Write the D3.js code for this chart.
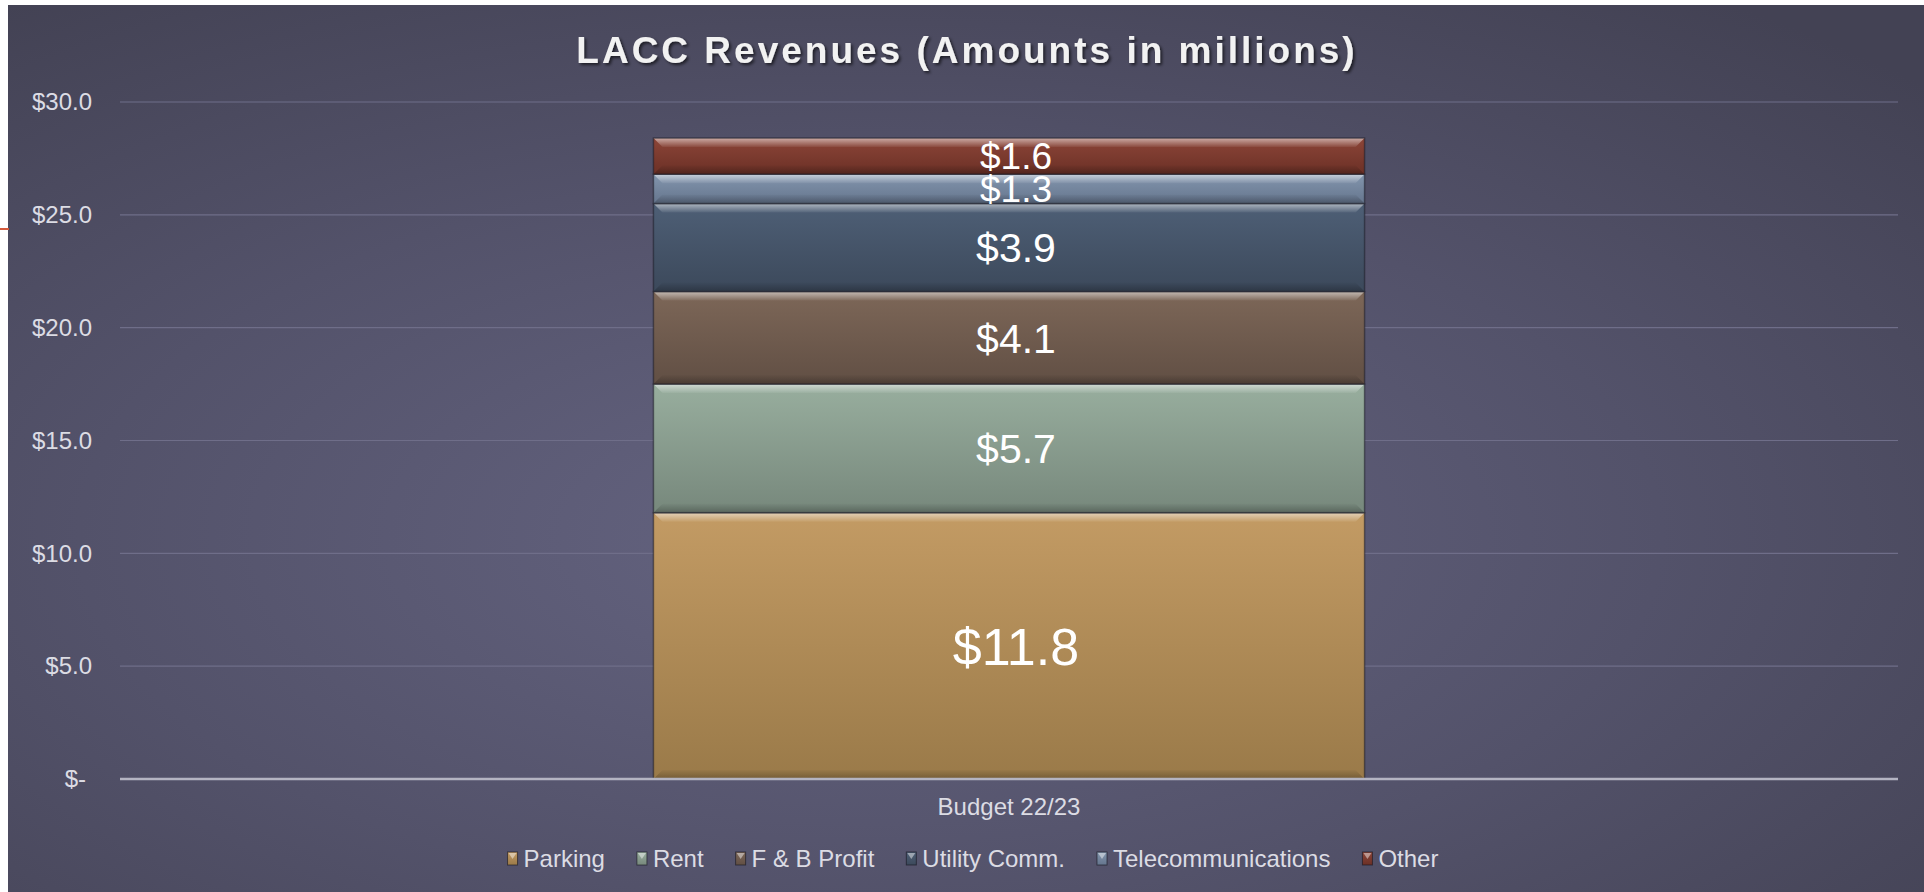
<!DOCTYPE html>
<html>
<head>
<meta charset="utf-8">
<script src="https://cdn.jsdelivr.net/npm/d3@7"></script>
<style>
    body { margin: 0; background: #ffffff; }
    svg { display: block; }
</style>
</head>
<body>
<svg id="chart" width="1924" height="892"></svg>
<script>
// Data
var categories = ["Budget 22/23"];
var series = ["Parking", "Rent", "F & B Profit", "Utility Comm.", "Telecommunications", "Other"];
var values = [11.8, 5.7, 4.1, 3.9, 1.3, 1.6];
var yTicks = [0, 5, 10, 15, 20, 25, 30];

// Styles (per series: top colour, bottom colour, label size)
var topColors = ["#c39b64", "#98ae9e", "#7d6758", "#4e5f76", "#8396ae", "#8c4538"];
var botColors = ["#9a7a49", "#77887c", "#614f44", "#3c495b", "#65758d", "#6b3026"];
var labelSizes = [52, 41, 41, 41, 37, 37];

// Layout
var width = 1924, height = 892;
var plot = { left: 120, right: 1898, top: 102, bottom: 779 };
var bevel = 9;

var svg = d3.select("#chart");
var defs = svg.append("defs");

// background gradient
var bg = defs.append("radialGradient")
    .attr("id", "bgGrad")
    .attr("cx", "45%").attr("cy", "60%").attr("r", "75%");
bg.append("stop").attr("offset", "0%").attr("stop-color", "#656481");
bg.append("stop").attr("offset", "55%").attr("stop-color", "#53526a");
bg.append("stop").attr("offset", "100%").attr("stop-color", "#434254");

// segment gradients
series.forEach(function(s, i){
    var g = defs.append("linearGradient")
        .attr("id", "seg" + i)
        .attr("x1", 0).attr("y1", 0).attr("x2", 0).attr("y2", 1);
    g.append("stop").attr("offset", "0%").attr("stop-color", topColors[i]);
    g.append("stop").attr("offset", "100%").attr("stop-color", botColors[i]);
});

var hi = defs.append("linearGradient")
    .attr("id", "bevelTop")
    .attr("x1", 0).attr("y1", 0).attr("x2", 0).attr("y2", 1);
hi.append("stop").attr("offset", "0%").attr("stop-color", "#ffffff").attr("stop-opacity", 0.55);
hi.append("stop").attr("offset", "100%").attr("stop-color", "#ffffff").attr("stop-opacity", 0.05);

var lo = defs.append("linearGradient")
    .attr("id", "bevelBot")
    .attr("x1", 0).attr("y1", 0).attr("x2", 0).attr("y2", 1);
lo.append("stop").attr("offset", "0%").attr("stop-color", "#000000").attr("stop-opacity", 0.02);
lo.append("stop").attr("offset", "100%").attr("stop-color", "#000000").attr("stop-opacity", 0.25);

var shadow = defs.append("filter").attr("id", "titleShadow")
    .attr("x", "-5%").attr("y", "-20%").attr("width", "110%").attr("height", "150%");
shadow.append("feDropShadow")
    .attr("dx", 2).attr("dy", 2).attr("stdDeviation", 1.5)
    .attr("flood-color", "#000000").attr("flood-opacity", 0.6);

// background
svg.append("rect")
    .attr("x", 8).attr("y", 5)
    .attr("width", width - 8).attr("height", height - 5)
    .attr("fill", "url(#bgGrad)");

// stray slide line on the left
svg.append("line")
    .attr("x1", 0).attr("x2", 9)
    .attr("y1", 229).attr("y2", 229)
    .attr("stroke", "#d45a3c").attr("stroke-width", 2);

// scales
var x = d3.scaleBand()
    .domain(categories)
    .range([plot.left, plot.right])
    .padding(0.4286);

var y = d3.scaleLinear()
    .domain([0, 30])
    .range([plot.bottom, plot.top]);

// gridlines
svg.append("g")
    .selectAll("line")
    .data(yTicks.filter(function(d){ return d > 0; }))
    .join("line")
    .attr("x1", plot.left).attr("x2", plot.right)
    .attr("y1", function(d){ return y(d); })
    .attr("y2", function(d){ return y(d); })
    .attr("stroke", "#6f6e89")
    .attr("stroke-width", 1.2);

// y axis
var yAxis = d3.axisLeft(y)
    .tickValues(yTicks)
    .tickSize(0)
    .tickPadding(0)
    .tickFormat(function(d){ return d === 0 ? "$-" : "$" + d.toFixed(1); });

var yg = svg.append("g")
    .attr("transform", "translate(92,0)")
    .call(yAxis);
yg.select(".domain").remove();
yg.selectAll("text")
    .attr("fill", "#dcdce4")
    .attr("font-family", "Liberation Sans, Arial, sans-serif")
    .attr("font-size", 24)
    .attr("dx", function(d){ return d === 0 ? -6 : 0; });

// stacked bars
var table = categories.map(function(c){
    var row = { category: c };
    series.forEach(function(s, i){ row[s] = values[i]; });
    return row;
});
var stacked = d3.stack().keys(series)(table);

var bx0 = x(categories[0]);
var bx1 = bx0 + x.bandwidth();

var segs = svg.append("g")
    .selectAll("g")
    .data(stacked)
    .join("g");

segs.each(function(layer, i){
    var d = layer[0];
    var g = d3.select(this);
    var yt = y(d[1]), yb = y(d[0]);

    g.append("rect")
        .attr("x", bx0).attr("y", yt)
        .attr("width", x.bandwidth()).attr("height", yb - yt)
        .attr("fill", "url(#seg" + i + ")");

    g.append("polygon")
        .attr("points", [[bx0, yt], [bx1, yt], [bx1 - bevel, yt + bevel], [bx0 + bevel, yt + bevel]].join(" "))
        .attr("fill", "url(#bevelTop)");

    g.append("polygon")
        .attr("points", [[bx0, yb], [bx0 + bevel, yb - bevel], [bx1 - bevel, yb - bevel], [bx1, yb]].join(" "))
        .attr("fill", "url(#bevelBot)");

    g.append("rect")
        .attr("x", bx0).attr("y", yt)
        .attr("width", x.bandwidth()).attr("height", yb - yt)
        .attr("fill", "none")
        .attr("stroke", "rgba(30,30,40,0.55)")
        .attr("stroke-width", 1.5);
});

// data labels
svg.append("g")
    .selectAll("text")
    .data(stacked)
    .join("text")
    .attr("x", bx0 + x.bandwidth() / 2 + 7)
    .attr("y", function(l){ return y((l[0][0] + l[0][1]) / 2); })
    .attr("dy", "0.36em")
    .attr("text-anchor", "middle")
    .attr("fill", "#ffffff")
    .attr("font-family", "Liberation Sans, Arial, sans-serif")
    .attr("font-size", function(l, i){ return labelSizes[i]; })
    .text(function(l, i){ return "$" + values[i].toFixed(1); });

// baseline
svg.append("line")
    .attr("x1", plot.left).attr("x2", plot.right)
    .attr("y1", y(0)).attr("y2", y(0))
    .attr("stroke", "#b4b4c2")
    .attr("stroke-width", 2.5);

// x axis
var xAxis = d3.axisBottom(x).tickSize(0).tickPadding(0);
var xg = svg.append("g")
    .attr("transform", "translate(0," + (y(0) + 36) + ")")
    .call(xAxis);
xg.select(".domain").remove();
xg.selectAll("text")
    .attr("fill", "#dcdce4")
    .attr("font-family", "Liberation Sans, Arial, sans-serif")
    .attr("font-size", 24)
    .attr("dy", "0");

// title
svg.append("text")
    .attr("x", 967)
    .attr("y", 63)
    .attr("text-anchor", "middle")
    .attr("fill", "#f2f2f2")
    .attr("font-family", "Liberation Sans, Arial, sans-serif")
    .attr("font-weight", "bold")
    .attr("font-size", 37)
    .attr("letter-spacing", 3)
    .attr("filter", "url(#titleShadow)")
    .text("LACC Revenues (Amounts in millions)");

// legend
var legend = svg.append("g");
var lx = 0;
var items = legend.selectAll("g")
    .data(series)
    .join("g");

items.append("rect")
    .attr("x", 0).attr("y", -7)
    .attr("width", 10).attr("height", 13)
    .attr("fill", function(s, i){ return "url(#seg" + i + ")"; })
    .attr("stroke", "rgba(20,20,30,0.6)")
    .attr("stroke-width", 1);

items.append("polygon")
    .attr("points", "1,-6 9,-6 5,0")
    .attr("fill", "rgba(255,255,255,0.45)");

items.append("text")
    .attr("x", 16)
    .attr("y", 0)
    .attr("dy", "0.35em")
    .attr("fill", "#dcdce4")
    .attr("font-family", "Liberation Sans, Arial, sans-serif")
    .attr("font-size", 24)
    .text(function(s){ return s; });

items.each(function(){
    var g = d3.select(this);
    g.attr("transform", "translate(" + lx + ",0)");
    lx += 16 + g.select("text").node().getComputedTextLength() + 32;
});
lx -= 32;
legend.attr("transform", "translate(" + (973 - lx / 2) + ",859)");
</script>
</body>
</html>
